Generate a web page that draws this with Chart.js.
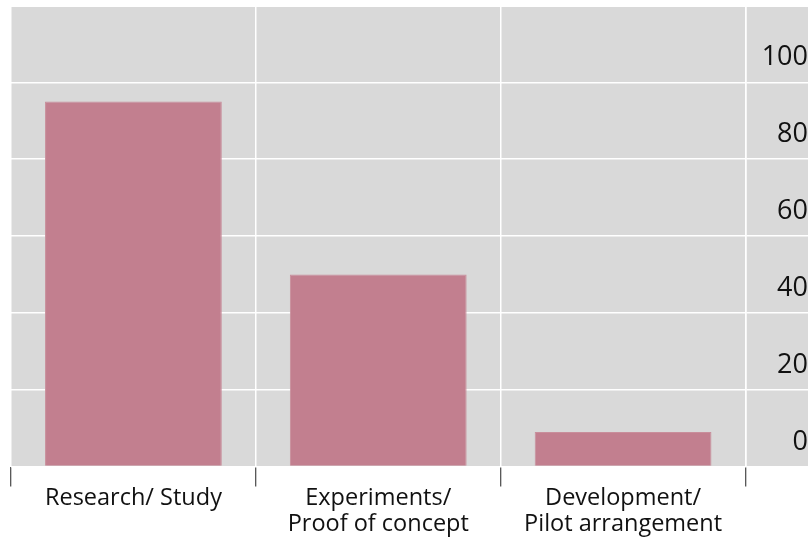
<!DOCTYPE html>
<html>
<head>
<meta charset="utf-8">
<script src="https://cdn.jsdelivr.net/npm/chart.js@4"></script>
<style>
  html, body { margin: 0; padding: 0; background: #ffffff; }
  canvas { display: block; }
</style>
</head>
<body>
<canvas id="chart" width="809" height="539"></canvas>
<script>
// Stages of work and the share reported for each
const categories = [
  'Research/ Study',
  ['Experiments/', 'Proof of concept'],
  ['Development/', 'Pilot arrangement']
];
const shares = [95, 50, 9];
const yTickValues = [0, 20, 40, 60, 80, 100];
const yMin = 0;
const yMax = 119.6;

const panelGray = '#d9d9d9';
const barColor = '#c27f8f';
const textColor = '#111111';
const fontFamily = '"Open Sans", "Noto Sans", sans-serif';

// Gray panel behind the plot, running under the value labels on the right
const panelBackground = {
  id: 'panelBackground',
  beforeDraw(chart) {
    const { ctx, chartArea, scales } = chart;
    ctx.save();
    ctx.fillStyle = panelGray;
    ctx.fillRect(chartArea.left, chartArea.top,
      scales.y.right - chartArea.left, chartArea.bottom - chartArea.top);
    ctx.restore();
  }
};

new Chart(document.getElementById('chart'), {
  type: 'bar',
  data: {
    labels: categories,
    datasets: [{
      data: shares,
      backgroundColor: barColor,
      borderColor: '#c98e9b',
      borderWidth: 1,
      categoryPercentage: 1.0,
      barPercentage: 0.722
    }]
  },
  options: {
    responsive: false,
    animation: false,
    devicePixelRatio: 1,
    layout: { padding: { left: 11, top: 7, right: 1, bottom: 0 } },
    plugins: {
      legend: { display: false },
      tooltip: { enabled: false }
    },
    scales: {
      x: {
        offset: true,
        border: { display: false },
        grid: {
          offset: true,
          color: '#ffffff',
          lineWidth: 1.5,
          drawTicks: true,
          tickLength: 20,
          tickColor: '#222222',
          tickWidth: 1
        },
        ticks: {
          color: textColor,
          padding: -0.5,
          maxRotation: 0,
          autoSkip: false,
          font: { family: fontFamily, size: 23.5, lineHeight: '25.5px' }
        },
        afterFit(scale) {
          scale.height = 72.5;
          scale.paddingLeft = 0;
          scale.paddingRight = 0;
        }
      },
      y: {
        position: 'right',
        min: yMin,
        max: yMax,
        border: { display: true, color: '#ffffff', width: 1.5 },
        grid: {
          color: '#ffffff',
          lineWidth: 1.5,
          drawTicks: true,
          tickLength: 64,
          tickColor: '#ffffff',
          tickWidth: 1.5
        },
        ticks: {
          color: textColor,
          crossAlign: 'far',
          labelOffset: -24.5,
          font: { family: fontFamily, size: 27 }
        },
        afterBuildTicks(scale) {
          scale.ticks = yTickValues.map(v => ({ value: v }));
        },
        afterFit(scale) {
          scale.width = 62.5;
          scale.paddingTop = 0;
          scale.paddingBottom = 0;
        }
      }
    }
  },
  plugins: [panelBackground]
});
</script>
</body>
</html>
